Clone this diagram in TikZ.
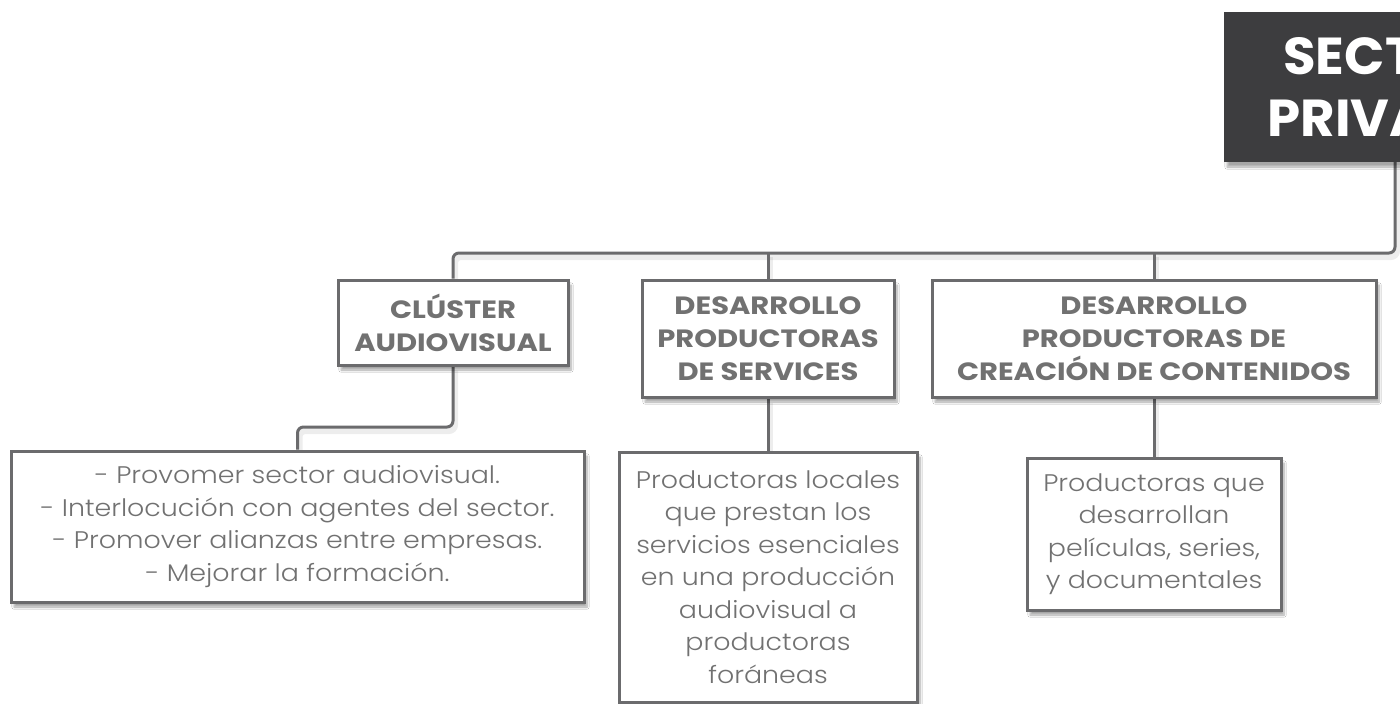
\documentclass[tikz,border=0pt]{standalone}
\usepackage{fontspec}
\setmainfont{Poppins}[FakeStretch=1.16]
\newfontfamily\lightfont{Poppins Light}[FakeStretch=1.12]
\newfontfamily\titlefont{Poppins}[FakeStretch=1.02]
\usetikzlibrary{shadows.blur,backgrounds}
\definecolor{lineg}{HTML}{6B6B6D}
\definecolor{txtg}{HTML}{717171}
\definecolor{darkbox}{HTML}{3D3D3F}
\tikzset{
  box/.style={draw=lineg, line width=3pt, fill=white, inner sep=0pt, align=center, text=txtg,
    blur shadow={shadow xshift=3pt, shadow yshift=-5pt, shadow blur steps=8, shadow opacity=35}},
  head/.style={box, font=\bfseries\fontsize{25}{33}\selectfont},
  body/.style={box, font=\lightfont\fontsize{24}{32.5}\selectfont},
  conn/.style={draw=lineg, line width=3pt, rounded corners=6pt,
    preaction={draw=black, draw opacity=0.07, line width=6pt, transform canvas={shift={(2pt,-4pt)}}}},
}
\begin{document}
\begin{tikzpicture}[x=1pt,y=-1pt]
\useasboundingbox (0,0) rectangle (1400,704);
\clip (0,0) rectangle (1400,704);
% title
\node[fill=darkbox, inner sep=0pt, minimum width=328pt, minimum height=150pt, align=center,
  text=white, font=\titlefont\bfseries\fontsize{52}{62}\selectfont,
  blur shadow={shadow xshift=3pt, shadow yshift=-5pt, shadow blur steps=8, shadow opacity=35}]
  (title) at (1388,87) {SECTOR\\PRIVADO};
% level 1
\node[head, minimum width=230pt, minimum height=85pt] (clus) at (453,322.5) {CLÚSTER\\AUDIOVISUAL};
\node[head, minimum width=252pt, minimum height=117pt] (serv) at (768,338.5) {DESARROLLO\\PRODUCTORAS\\DE SERVICES};
\node[head, minimum width=444pt, minimum height=117pt] (crea) at (1154,338.5) {DESARROLLO\\PRODUCTORAS DE\\CREACIÓN DE CONTENIDOS};
% level 2
\node[body, minimum width=573pt, minimum height=151pt] (b1) at (297.5,526.5) {- Provomer sector audiovisual.\\- Interlocución con agentes del sector.\\- Promover alianzas entre empresas.\\- Mejorar la formación.};
\node[body, minimum width=298pt, minimum height=250pt] (b2) at (768,577) {Productoras locales\\que prestan los\\servicios esenciales\\en una producción\\audiovisual a\\productoras\\foráneas};
\node[body, minimum width=254pt, minimum height=152pt] (b3) at (1154,534) {Productoras que\\desarrollan\\películas, series,\\y documentales};
% connectors
\coordinate (tdrop) at (1395,162);
\coordinate (bus) at (0,253);
\coordinate (elb) at (0,427);
\begin{scope}[on background layer]
\fill[white] (0,0) rectangle (1400,704);
\draw[conn] (tdrop) |- (bus -| clus.north) -- (clus.north);
\draw[conn] (serv.north |- bus) -- (serv.north);
\draw[conn] (crea.north |- bus) -- (crea.north);
\draw[conn] (clus.south) |- (b1.north |- elb) -- (b1.north);
\draw[conn] (serv.south) -- (b2.north);
\draw[conn] (crea.south) -- (b3.north);
\end{scope}
\end{tikzpicture}
\end{document}
